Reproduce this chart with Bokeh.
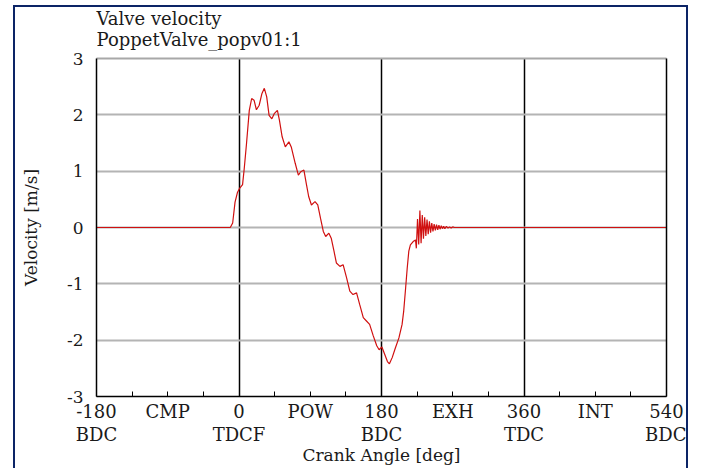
from bokeh.plotting import figure
from bokeh.models import Range1d, FixedTicker, LinearAxis, Title
from bokeh.embed import file_html
from bokeh.resources import INLINE

# ---- data ----
crank_deg = [-180, -11, -8, -5, -2, 1, 4.5, 6.5, 9.5, 13, 16, 19, 22, 25.5, 29, 32, 35, 38,
             41.5, 44.5, 48.5, 51, 54.5, 58.5, 63, 66, 71, 75, 78, 82, 85, 88, 91.5, 96,
             99.5, 103, 106.5, 109.5, 113.5, 116.5, 120, 123, 127.5, 131.5, 136, 140, 144,
             148.5, 152.5, 157, 161, 165, 169.5, 174, 177, 180.5, 184, 187.5, 190, 193.5,
             197.5, 202, 206, 208, 210.5, 212.5, 214.5, 216.5, 220, 223,
             224, 225.5, 227, 228.5, 230, 231.5, 233, 234.5, 236, 237.5, 239, 240.5, 242,
             243.5, 245, 246.5, 248, 249.5, 251, 252.5, 254, 255.5, 257, 258.5, 260, 262,
             264, 266, 268, 270, 272, 540]
velocity = [0, 0, 0.08, 0.45, 0.62, 0.70, 0.76, 1.03, 1.49, 2.08, 2.29, 2.26, 2.09, 2.17,
            2.38, 2.47, 2.32, 1.99, 1.93, 2.02, 2.08, 1.91, 1.61, 1.43, 1.52, 1.43, 1.14,
            0.93, 0.99, 1.02, 0.78, 0.55, 0.40, 0.46, 0.40, 0.16, -0.07, -0.16, -0.10,
            -0.19, -0.42, -0.63, -0.69, -0.66, -0.90, -1.13, -1.19, -1.16, -1.37, -1.60,
            -1.66, -1.72, -1.92, -2.10, -2.17, -2.12, -2.25, -2.38, -2.42, -2.31, -2.14,
            -1.96, -1.72, -1.49, -1.07, -0.72, -0.42, -0.31, -0.25, -0.22,
            -0.37, 0.15, -0.30, 0.30, -0.28, 0.22, -0.20, 0.18, -0.15, 0.14, -0.12, 0.11,
            -0.09, 0.08, -0.07, 0.06, -0.05, 0.05, -0.04, 0.04, -0.03, 0.03, -0.02, 0.02,
            -0.02, 0.02, -0.01, 0.01, -0.01, 0.01, 0, 0]

x_ticks = [-180, -135, -90, -45, 0, 45, 90, 135, 180, 225, 270, 315, 360, 405, 450, 495, 540]
x_row1 = {-180: "-180", -90: "CMP", 0: "0", 90: "POW", 180: "180",
          270: "EXH", 360: "360", 450: "INT", 540: "540"}
x_row2_ticks = [-180, 0, 180, 360, 540]
x_row2 = {-180: "BDC", 0: "TDCF", 180: "BDC", 360: "TDC", 540: "BDC"}
y_ticks = [-3, -2, -1, 0, 1, 2, 3]
y_tick_labels = {-3: "-3", -2: "-2", -1: "-1", 0: "0", 1: "1", 2: "2", 3: "3"}
phase_lines = [0, 180, 360]

title_1 = "Valve velocity"
title_2 = "PoppetValve_popv01:1"
x_label = "Crank Angle [deg]"
y_label = "Velocity [m/s]"

FONT = "DejaVu Serif"
FS = "18px"
FS_S = "17px"
TXT = "#1a1a1a"

p = figure(width=675, height=466, output_backend="svg", toolbar_location=None,
           x_range=Range1d(-180, 540), y_range=Range1d(-3, 3),
           min_border_left=81, min_border_right=24, min_border_top=51, min_border_bottom=77)
p.styles = {"border": "2px solid #0c2466", "margin-left": "13px", "margin-top": "5px"}
p.outline_line_color = None
p.background_fill_color = "white"
p.border_fill_color = "white"

# grids
p.ygrid.ticker = FixedTicker(ticks=y_ticks)
p.ygrid.grid_line_color = "#b4b4b4"
p.ygrid.grid_line_width = 2
p.xgrid.ticker = FixedTicker(ticks=phase_lines)
p.xgrid.grid_line_color = "black"
p.xgrid.grid_line_width = 1.5

# x axis, first row
xa = p.xaxis[0]
xa.ticker = FixedTicker(ticks=x_ticks)
xa.major_label_overrides = {t: x_row1.get(t, "") for t in x_ticks}
xa.major_tick_in = 5
xa.major_tick_out = 0
xa.minor_tick_line_color = None
xa.axis_line_color = "black"
xa.axis_line_width = 1.5
xa.major_tick_line_color = "black"
xa.major_label_standoff = 4
xa.major_label_text_font = FONT
xa.major_label_text_font_size = FS
xa.major_label_text_color = TXT

# x axis, second row + title
xa2 = LinearAxis(ticker=FixedTicker(ticks=x_row2_ticks),
                 major_label_overrides={t: x_row2[t] for t in x_row2_ticks},
                 axis_line_color=None, major_tick_line_color=None, minor_tick_line_color=None,
                 major_tick_in=0, major_tick_out=0, major_label_standoff=-1,
                 major_label_text_font=FONT, major_label_text_font_size=FS,
                 major_label_text_color=TXT,
                 axis_label=x_label, axis_label_standoff=-3,
                 axis_label_text_font=FONT, axis_label_text_font_size=FS_S,
                 axis_label_text_font_style="normal", axis_label_text_color=TXT)
p.add_layout(xa2, "below")

# y axis
ya = p.yaxis[0]
ya.ticker = FixedTicker(ticks=y_ticks)
ya.major_label_overrides = y_tick_labels
ya.major_tick_in = 0
ya.major_tick_out = 0
ya.minor_tick_line_color = None
ya.axis_line_color = "black"
ya.axis_line_width = 1.5
ya.major_label_standoff = 13
ya.major_label_text_font = FONT
ya.major_label_text_font_size = FS_S
ya.major_label_text_color = TXT
ya.axis_label = y_label
ya.axis_label_standoff = 23
ya.axis_label_text_font = FONT
ya.axis_label_text_font_size = FS_S
ya.axis_label_text_font_style = "normal"
ya.axis_label_text_color = TXT

# right and top frame lines
ra = LinearAxis(ticker=FixedTicker(ticks=[]), major_label_text_font_size="0px",
                major_tick_line_color=None, minor_tick_line_color=None,
                axis_line_color="black", axis_line_width=1.5)
p.add_layout(ra, "right")
ta = LinearAxis(ticker=FixedTicker(ticks=[]), major_label_text_font_size="0px",
                major_tick_line_color=None, minor_tick_line_color=None,
                axis_line_color="#a8a8a8", axis_line_width=2)
p.add_layout(ta, "above")

# titles (second line nearest to the frame)
p.add_layout(Title(text=title_2, align="left", text_font=FONT, text_font_size=FS,
                   text_font_style="normal", text_color=TXT, standoff=17), "above")
p.add_layout(Title(text=title_1, align="left", text_font=FONT, text_font_size=FS,
                   text_font_style="normal", text_color=TXT, standoff=-20), "above")

# curve
p.line(crank_deg, velocity, line_color="#d01010", line_width=1.2)

open("out.html", "w").write(file_html(p, INLINE))
